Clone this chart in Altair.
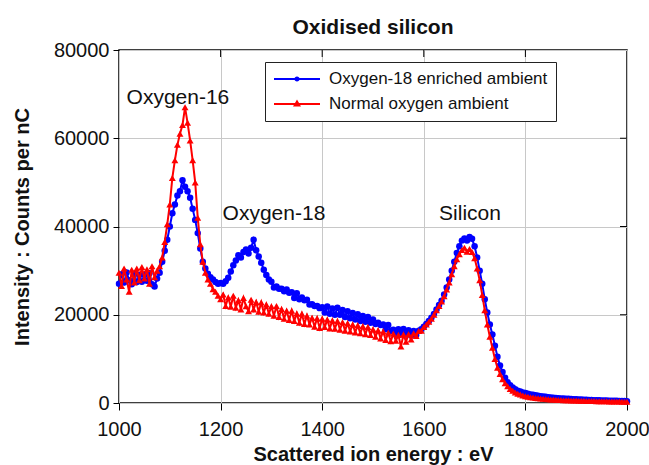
import altair as alt
import pandas as pd

FONT = "Liberation Sans"
TEXT = "#111111"

SERIES = ["Oxygen-18 enriched ambient", "Normal oxygen ambient"]
COLORS = ["#0000ff", "#ff0000"]

# Energy grid of the spectra (eV)
E_START = 1000
E_STEP = 5

# Intensity (counts per nC), oxygen-18 enriched ambient
enriched = [
    27000, 29200, 27300, 29600, 27800, 26900, 29300, 27400, 29000, 27500,
    29100, 27700, 29400, 26900, 26400, 28200, 29500, 32000, 34500, 37000,
    40000, 43000, 45000, 47000, 48000, 50500, 49000, 48000, 46500, 44000,
    41500, 38500, 35000, 32000, 30500, 29300, 28500, 28000, 27400, 27000,
    27200, 27000, 27600, 28400, 29800, 31200, 32300, 33500, 33000, 34200,
    34800, 33900, 35200, 37000, 34600, 33200, 31800, 30200, 29000, 28000,
    27500, 26200, 26400, 25900, 25900, 25300, 25700, 25000, 25100, 23800,
    24900, 23500, 23900, 23300, 23400, 22300, 22400, 22000, 22000, 21500,
    21700, 20500, 21900, 20200, 21400, 20000, 21600, 20000, 21100, 19500,
    20800, 19200, 20400, 18900, 20100, 18600, 19700, 18400, 19500, 18200,
    18900, 17900, 18200, 17700, 17800, 16700, 17700, 16300, 16600, 15500,
    16700, 15600, 16800, 15500, 16500, 15300, 16300, 15400, 16400, 16700,
    17300, 17900, 18600, 19300, 20200, 21200, 22200, 23200, 24600, 26200,
    28000, 30000, 32000, 34000, 35500, 36800, 37300, 36800, 37600, 37200,
    35500, 33000, 30000, 27000, 23500, 20500, 17800, 15500, 13000, 10500,
    8500, 7000, 5700, 4700, 4000, 3500, 3100, 2800, 2600, 2400,
    2250, 2100, 1950, 1850, 1750, 1650, 1550, 1450, 1400, 1300,
    1250, 1200, 1150, 1100, 1050, 1000, 980, 950, 920, 880,
    850, 820, 800, 760, 740, 700, 680, 650, 640, 610,
    590, 570, 560, 540, 520, 500, 490, 470, 460, 440,
    420,
]

# Intensity (counts per nC), normal oxygen ambient
normal = [
    29500, 26500, 30500, 28000, 25200, 30200, 27300, 30500, 27800, 30800,
    28200, 30300, 27000, 31000, 28500, 30000, 31000, 33000, 36500, 40500,
    45000, 51000, 55000, 58500, 61000, 63000, 67000, 63500, 59500, 55000,
    50000, 42000, 36000, 32000, 29500, 28000, 27000, 25800, 25200, 24300,
    23500, 24600, 22000, 23900, 21800, 24300, 21600, 23300, 21200, 23800,
    21900, 20800, 23400, 21200, 22900, 20700, 22800, 20500, 22300, 20200,
    21900, 19800, 22000, 19500, 21300, 19100, 20900, 18800, 20900, 18600,
    20300, 18200, 20200, 17900, 19800, 17800, 19300, 17300, 19200, 17000,
    19100, 17200, 18900, 16900, 18700, 16800, 18600, 16600, 18300, 16400,
    18100, 16200, 17800, 16000, 17600, 15800, 17400, 15600, 17200, 15400,
    16700, 15000, 16500, 14600, 16200, 14300, 15900, 14000, 15700, 14100,
    15400, 12800, 15500, 13900, 15600, 14400, 15800, 15200, 16300, 16400,
    17200, 17800, 18400, 19100, 20000, 21000, 22000, 23000, 24200, 25700,
    27300, 29200, 31000, 32600, 33700, 34700, 35200, 34300, 34900, 34200,
    32800, 30500, 27800, 24500, 21000, 17800, 15000, 12500, 10000, 8000,
    6600, 5400, 4500, 3800, 3200, 2800, 2400, 2100, 1900, 1700,
    1550, 1420, 1320, 1220, 1130, 1060, 1000, 940, 890, 850,
    800, 770, 740, 700, 680, 650, 630, 600, 580, 560,
    540, 520, 500, 490, 470, 460, 440, 430, 420, 400,
    390, 380, 370, 360, 350, 340, 330, 320, 310, 300,
    290,
]

# Peak labels
ann_text = ["Oxygen-16", "Oxygen-18", "Silicon"]
ann_energy = [1116, 1305, 1691]
ann_intensity = [69200, 42900, 42900]

# Axis ticks
x_ticks = [1000, 1200, 1400, 1600, 1800, 2000]
y_ticks = [0, 20000, 40000, 60000, 80000]
x_inner = [1200, 1400, 1600, 1800]
y_inner = [20000, 40000, 60000]

W, H = 508, 353

energy = [E_START + E_STEP * i for i in range(len(enriched))]
df = pd.concat([
    pd.DataFrame({"E": energy, "I": enriched, "series": SERIES[0]}),
    pd.DataFrame({"E": energy, "I": normal, "series": SERIES[1]}),
])
ann_df = pd.DataFrame({"label": ann_text, "E": ann_energy, "I": ann_intensity})
xt_df = pd.DataFrame({"E": x_inner})
yt_df = pd.DataFrame({"I": y_inner})

x_enc = alt.X(
    "E:Q",
    scale=alt.Scale(domain=[1000, 2000], nice=False, zero=False),
    axis=alt.Axis(
        values=x_ticks, format="d", title="Scattered ion energy : eV",
        tickSize=7, labelPadding=9, labelFlush=False,
        titleY=57, titleBaseline="alphabetic",
    ),
)
y_enc = alt.Y(
    "I:Q",
    scale=alt.Scale(domain=[0, 80000], nice=False),
    axis=alt.Axis(
        values=y_ticks, format="d", title="Intensity : Counts per nC",
        tickSize=6, labelPadding=4, labelFlush=False,
        titleX=-97, titleBaseline="middle",
    ),
)

# Spectra: line plus markers, blue first so red sits on top
layers = []
for name, color, shape, size in [
    (SERIES[0], COLORS[0], "circle", 42),
    (SERIES[1], COLORS[1], "triangle-up", 48),
]:
    sub = alt.Chart(df).transform_filter(alt.datum.series == name)
    layers.append(sub.mark_line(color=color, strokeWidth=2).encode(x=x_enc, y=y_enc))
    layers.append(
        sub.mark_point(shape=shape, filled=True, size=size, color=color, opacity=1)
        .encode(x=x_enc, y=y_enc)
    )

# Legend: symbol drawn as a short line with the series marker in the middle
circle_sym = "M-1,0L1,0M0.07,0A0.07,0.07,0,1,1,-0.07,0A0.07,0.07,0,1,1,0.07,0"
tri_sym = "M-1,0L1,0M0,-0.11L0.1,0.07L-0.1,0.07Z"
legend = alt.Legend(
    orient="none", legendX=146, legendY=12, direction="vertical",
    fillColor="white", strokeColor="#222222", padding=8,
    labelFont=FONT, labelFontSize=17, labelColor=TEXT, labelOffset=8,
    labelLimit=400, symbolSize=2116, symbolStrokeWidth=2, symbolOpacity=1,
    clipHeight=18, rowPadding=7,
)
legend_layer = (
    alt.Chart(df)
    .transform_filter("datum.E < 0")
    .mark_point(filled=False, strokeWidth=2, opacity=1)
    .encode(
        x=x_enc, y=y_enc,
        color=alt.Color("series:N", title=None,
                        scale=alt.Scale(domain=SERIES, range=COLORS), legend=legend),
        shape=alt.Shape("series:N", title=None,
                        scale=alt.Scale(domain=SERIES, range=[circle_sym, tri_sym]),
                        legend=legend),
    )
)

labels = alt.Chart(ann_df).mark_text(
    font=FONT, fontSize=21, color=TEXT, align="center", baseline="middle"
).encode(x=x_enc, y=y_enc, text="label:N")

# Inward ticks on the top and right edges of the frame
top_ticks = alt.Chart(xt_df).mark_rule(color="#000000", strokeWidth=1).encode(
    x=x_enc, y=alt.value(0), y2=alt.value(7)
)
right_ticks = alt.Chart(yt_df).mark_rule(color="#000000", strokeWidth=1).encode(
    y=y_enc, x=alt.value(W), x2=alt.value(W - 7)
)

chart = (
    alt.layer(*layers, legend_layer, labels, top_ticks, right_ticks)
    .properties(
        width=W, height=H,
        autosize=alt.AutoSizeParams(type="none"),
        padding={"left": 119, "top": 50, "right": 649 - 119 - W, "bottom": 465 - 50 - H},
        background="white",
        title=alt.TitleParams(
            "Oxidised silicon", font=FONT, fontSize=21, fontWeight="bold",
            color=TEXT, anchor="middle", frame="group", offset=17,
            baseline="alphabetic", dy=32,
        ),
    )
    .configure_view(stroke="#000000", strokeWidth=1.5)
    .configure_axis(
        labelFont=FONT, labelFontSize=20, labelColor=TEXT,
        titleFont=FONT, titleFontSize=20, titleFontWeight="bold", titleColor=TEXT,
        tickColor="#000000", tickWidth=1, domain=False,
        grid=True, gridColor="#c8c8c8", gridWidth=1,
    )
)

chart.save("out.html", embed_options={"renderer": "svg", "actions": False})
